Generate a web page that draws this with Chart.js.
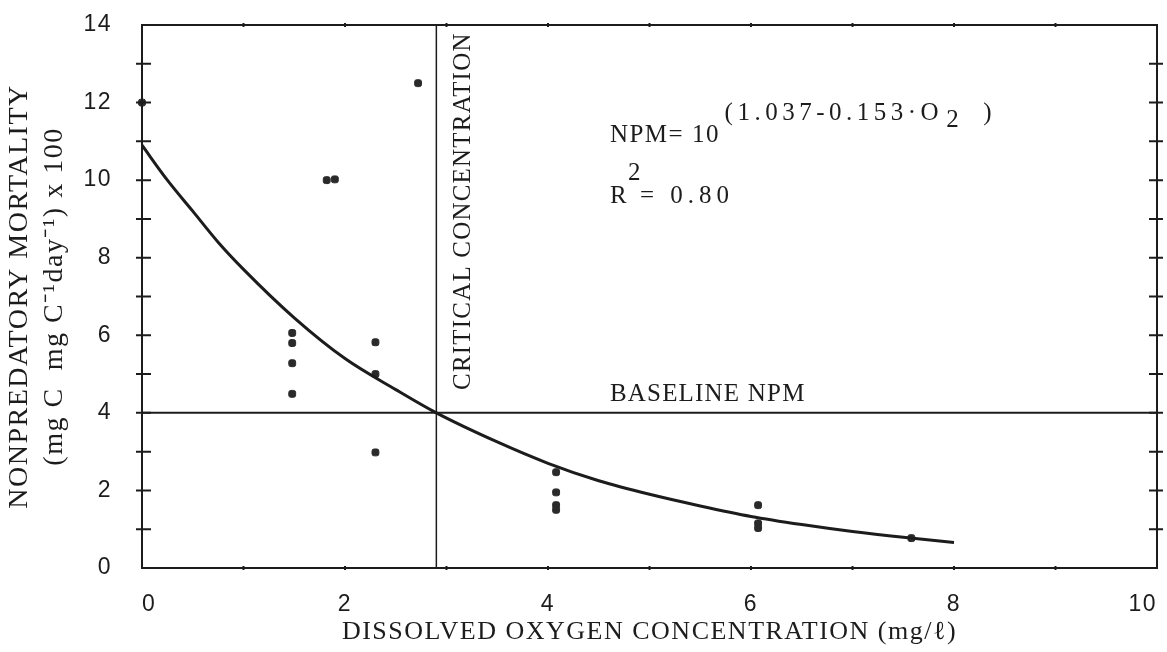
<!DOCTYPE html>
<html>
<head>
<meta charset="utf-8">
<script src="https://cdn.jsdelivr.net/npm/chart.js@4.4.1/dist/chart.umd.min.js"></script>
<style>
  html, body { margin: 0; padding: 0; background: #fff; }
  #wrap { width: 1167px; height: 652px; }
</style>
</head>
<body>
<div id="wrap"><canvas id="chart"></canvas></div>
<script>
// observed points (dissolved O2 mg/l, NPM x 100)
const obsX = [0, 1.48, 1.48, 1.48, 1.48, 1.82, 1.9, 2.3, 2.3, 2.3, 2.72, 4.08, 4.08, 4.08, 4.08, 6.07, 6.07, 6.07, 7.58];
const obsY = [12, 6.06, 5.8, 5.28, 4.49, 10.0, 10.02, 5.82, 5.0, 2.98, 12.5, 2.47, 1.95, 1.62, 1.5, 1.62, 1.15, 1.03, 0.77];

// fitted curve
const fitX = [0, 0.25, 0.5, 0.75, 1, 1.5, 2, 2.5, 2.9, 3.5, 4, 4.5, 5, 5.5, 6, 6.5, 7, 7.5, 8];
const fitY = [10.9, 10.0, 9.2, 8.4, 7.7, 6.45, 5.4, 4.6, 4.0, 3.25, 2.7, 2.25, 1.9, 1.6, 1.33, 1.12, 0.94, 0.79, 0.66];

// reference lines
const baselineNpm = 4;
const criticalO2 = 2.9;

const xTicks = [0, 2, 4, 6, 8, 10];
const yTicks = [0, 2, 4, 6, 8, 10, 12, 14];

const ink = '#1c1c1c';
const typeFont = '"Liberation Serif", "Times New Roman", serif';
const digitFont = '"Liberation Sans", Arial, sans-serif';

const toPts = (xs, ys) => xs.map((x, i) => ({ x: x, y: ys[i] }));

// typed text with a given letter spacing
function typeText(ctx, str, px, py, spacing) {
  ctx.letterSpacing = spacing + 'px';
  ctx.fillText(str, px, py);
  return ctx.measureText(str).width;
}

// frame, crossing ticks and the typed notes
const paperPlugin = {
  id: 'paper',
  beforeDraw(chart) {
    chart.ctx.letterSpacing = '1.5px';
  },
  afterDraw(chart) {
    const { ctx, chartArea: a, scales: { x, y } } = chart;
    ctx.save();
    ctx.strokeStyle = ink;
    ctx.lineWidth = 2;
    ctx.strokeRect(a.left, a.top, a.right - a.left, a.bottom - a.top);

    for (let v = 1; v < 14; v++) {
      const py = y.getPixelForValue(v);
      ctx.beginPath();
      ctx.moveTo(a.left - 6, py); ctx.lineTo(a.left + 9, py);
      ctx.moveTo(a.right - 8, py); ctx.lineTo(a.right + 6, py);
      ctx.stroke();
    }
    for (let v = 1; v < 10; v++) {
      const px = x.getPixelForValue(v);
      ctx.beginPath();
      ctx.moveTo(px, a.top - 2); ctx.lineTo(px, a.top + 2);
      ctx.moveTo(px, a.bottom - 2); ctx.lineTo(px, a.bottom + 2);
      ctx.stroke();
    }

    ctx.fillStyle = ink;
    ctx.font = '25px ' + typeFont;
    ctx.textBaseline = 'alphabetic';
    ctx.textAlign = 'left';

    // critical concentration label, vertical
    ctx.save();
    ctx.translate(x.getPixelForValue(criticalO2) + 34, y.getPixelForValue(9.2));
    ctx.rotate(-Math.PI / 2);
    ctx.textAlign = 'center';
    typeText(ctx, 'CRITICAL CONCENTRATION', 0, 0, 1.2);
    ctx.restore();

    const ex = x.getPixelForValue(4.61);
    typeText(ctx, 'BASELINE NPM', ex, y.getPixelForValue(4.3), 1.2);

    const ey = y.getPixelForValue(10.98);
    typeText(ctx, 'NPM= 10', ex, ey, 1.5);
    const sx = x.getPixelForValue(5.74);
    const sy = y.getPixelForValue(11.55);
    const w = typeText(ctx, '(1.037-0.153\u00b7O', sx, sy, 4.5);
    typeText(ctx, '2', sx + w + 3, sy + 7, 0);
    typeText(ctx, ')', sx + w + 40, sy, 0);

    const ry = y.getPixelForValue(9.4);
    typeText(ctx, 'R', ex, ry, 0);
    typeText(ctx, '2', ex + 18, ry - 23, 0);
    typeText(ctx, '= 0.80', ex + 30, ry, 5);
    ctx.restore();
  }
};

new Chart(document.getElementById('chart'), {
  type: 'scatter',
  data: {
    datasets: [
      {
        label: 'fit',
        type: 'line',
        data: toPts(fitX, fitY),
        borderColor: ink,
        borderWidth: 3,
        pointRadius: 0,
        cubicInterpolationMode: 'monotone',
        fill: false
      },
      {
        label: 'baseline',
        type: 'line',
        data: toPts([0, 10], [baselineNpm, baselineNpm]),
        borderColor: ink,
        borderWidth: 2,
        pointRadius: 0
      },
      {
        label: 'critical',
        type: 'line',
        data: toPts([criticalO2, criticalO2], [0, 14]),
        borderColor: ink,
        borderWidth: 1.5,
        pointRadius: 0
      },
      {
        label: 'observed',
        data: toPts(obsX, obsY),
        pointStyle: 'rectRounded',
        pointRadius: 4,
        backgroundColor: '#2a2a2a',
        borderColor: '#2a2a2a',
        borderWidth: 1,
        clip: false
      }
    ]
  },
  options: {
    responsive: true,
    maintainAspectRatio: false,
    animation: false,
    layout: { padding: { left: 0, right: 10, top: 25, bottom: 0 } },
    plugins: {
      legend: { display: false },
      tooltip: { enabled: false }
    },
    scales: {
      x: {
        type: 'linear',
        min: 0,
        max: 10,
        afterBuildTicks: s => { s.ticks = xTicks.map(v => ({ value: v })); },
        afterFit: s => { s.height = 84; s.paddingLeft = 0; s.paddingRight = 0; },
        grid: { display: false },
        border: { display: false },
        ticks: {
          color: ink,
          padding: 15,
          align: 'inner',
          maxRotation: 0,
          font: { family: digitFont, size: 23 }
        },
        title: {
          display: true,
          text: 'DISSOLVED OXYGEN CONCENTRATION (mg/\u2113)',
          color: ink,
          padding: { top: 0, bottom: 4 },
          font: { family: typeFont, size: 26, lineHeight: 1.2 }
        }
      },
      y: {
        type: 'linear',
        min: 0,
        max: 14,
        afterBuildTicks: s => { s.ticks = yTicks.map(v => ({ value: v })); },
        afterFit: s => { s.width = 142; s.paddingTop = 0; s.paddingBottom = 0; },
        grid: { display: false },
        border: { display: false },
        ticks: {
          color: ink,
          padding: 22,
          font: { family: digitFont, size: 23 }
        },
        title: {
          display: true,
          text: ['NONPREDATORY MORTALITY', '(mg C  mg C\u207b\u00b9day\u207b\u00b9) x 100'],
          color: ink,
          padding: { top: 2, bottom: 0 },
          font: { family: typeFont, size: 28, lineHeight: 1.25 }
        }
      }
    }
  },
  plugins: [paperPlugin]
});
</script>
</body>
</html>
